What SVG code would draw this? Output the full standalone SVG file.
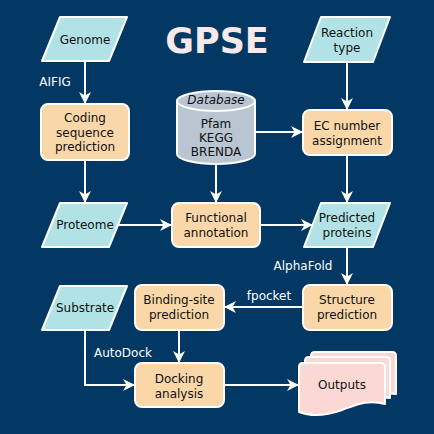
<svg xmlns="http://www.w3.org/2000/svg" width="434" height="434" viewBox="0 0 434 434">
<defs>
<style>
.io{fill:#b1e3e6;stroke:#fff;stroke-width:2;stroke-linejoin:round}
.pr{fill:#f9d7a8;stroke:#fff;stroke-width:2}
.db{fill:#b9c5d1;stroke:#fff;stroke-width:2}
.out{fill:#fad8d4;stroke:#fff;stroke-width:2;stroke-linejoin:round}
.t{font-family:"DejaVu Sans",Verdana,sans-serif;font-size:12px;fill:#111;text-anchor:middle}
.lbl{font-family:"DejaVu Sans",Verdana,sans-serif;font-size:12px;fill:#fff;text-anchor:middle}
.c{fill:none;stroke:#fff;stroke-width:2}
</style>
<marker id="ah" markerUnits="userSpaceOnUse" markerWidth="12" markerHeight="12" viewBox="0 0 12 12" refX="11" refY="6" orient="auto">
<path d="M0,0 L12,6 L0,12 L3.5,6 Z" fill="#fff"/>
</marker>
</defs>
<rect width="434" height="434" fill="#033764"/>
<text x="217" y="53" font-family="'DejaVu Sans',Verdana,sans-serif" font-size="35" font-weight="bold" fill="#f7e9ea" text-anchor="middle">GPSE</text>

<g id="connectors">
<line class="c" x1="85" y1="61" x2="85" y2="103" marker-end="url(#ah)"/>
<line class="c" x1="85" y1="160" x2="85" y2="202" marker-end="url(#ah)"/>
<line class="c" x1="118" y1="225" x2="171" y2="225" marker-end="url(#ah)"/>
<line class="c" x1="216" y1="164" x2="216" y2="202" marker-end="url(#ah)"/>
<line class="c" x1="255" y1="132" x2="302" y2="132" marker-end="url(#ah)"/>
<line class="c" x1="347" y1="62" x2="347" y2="109" marker-end="url(#ah)"/>
<line class="c" x1="347" y1="155" x2="347" y2="202" marker-end="url(#ah)"/>
<line class="c" x1="260" y1="225" x2="312" y2="225" marker-end="url(#ah)"/>
<line class="c" x1="347" y1="247" x2="347" y2="284" marker-end="url(#ah)"/>
<line class="c" x1="303" y1="307" x2="225" y2="307" marker-end="url(#ah)"/>
<line class="c" x1="179" y1="330" x2="179" y2="362" marker-end="url(#ah)"/>
<polyline class="c" points="85,330 85,385 134,385" marker-end="url(#ah)"/>
<line class="c" x1="224" y1="385" x2="298" y2="385" marker-end="url(#ah)"/>
<text class="lbl" x="55" y="86">AIFIG</text>
<text class="lbl" x="303" y="270">AlphaFold</text>
<text class="lbl" x="269" y="300">fpocket</text>
<text class="lbl" x="123" y="357">AutoDock</text>
</g>

<g id="genome">
<polygon class="io" points="60,17 127,17 109,61 42,61"/>
<text class="t" x="85" y="44">Genome</text>
</g>
<g id="reaction">
<polygon class="io" points="321,17 390,17 373,62 304,62"/>
<text class="t" x="347" y="37">Reaction</text>
<text class="t" x="347" y="52">type</text>
</g>
<g id="coding">
<rect class="pr" x="41" y="104" width="88" height="56" rx="7"/>
<text class="t" x="85" y="122">Coding</text>
<text class="t" x="85" y="137">sequence</text>
<text class="t" x="85" y="151">prediction</text>
</g>
<g id="database">
<path class="db" d="M177,101 A39,10 0 0 1 255,101 L255,154 A39,10 0 0 1 177,154 Z"/>
<path class="c" d="M177,101 A39,10 0 0 0 255,101"/>
<text class="t" x="216" y="104" font-style="italic">Database</text>
<text class="t" x="216" y="128">Pfam</text>
<text class="t" x="216" y="142">KEGG</text>
<text class="t" x="216" y="156">BRENDA</text>
</g>
<g id="ec">
<rect class="pr" x="303" y="110" width="89" height="45" rx="7"/>
<text class="t" x="347" y="130">EC number</text>
<text class="t" x="347" y="145">assignment</text>
</g>
<g id="proteome">
<polygon class="io" points="60,203 127,203 109,247 42,247"/>
<text class="t" x="85" y="229">Proteome</text>
</g>
<g id="functional">
<rect class="pr" x="172" y="203" width="88" height="44" rx="7"/>
<text class="t" x="216" y="222">Functional</text>
<text class="t" x="216" y="237">annotation</text>
</g>
<g id="predicted">
<polygon class="io" points="321,203 390,203 373,247 304,247"/>
<text class="t" x="347" y="222">Predicted</text>
<text class="t" x="347" y="237">proteins</text>
</g>
<g id="substrate">
<polygon class="io" points="60,286 127,286 109,330 42,330"/>
<text class="t" x="85" y="312">Substrate</text>
</g>
<g id="binding">
<rect class="pr" x="135" y="285" width="89" height="45" rx="7"/>
<text class="t" x="179" y="304">Binding-site</text>
<text class="t" x="179" y="319">prediction</text>
</g>
<g id="structure">
<rect class="pr" x="303" y="285" width="89" height="45" rx="7"/>
<text class="t" x="347" y="304">Structure</text>
<text class="t" x="347" y="319">prediction</text>
</g>
<g id="docking">
<rect class="pr" x="135" y="363" width="89" height="44" rx="7"/>
<text class="t" x="179" y="383">Docking</text>
<text class="t" x="179" y="398">analysis</text>
</g>
<g id="outputs">
<path class="out" d="M311,356 Q311,352 315,352 L392,352 Q396,352 396,356 L396,394 C386,392 378,395 372,398 L372,380 L311,380 Z"/>
<path class="out" d="M305,361 Q305,357 309,357 L386,357 Q390,357 390,361 L390,398 C380,396 372,399 366,402 L366,385 L305,385 Z"/>
<path class="out" d="M299,367 Q299,363 303,363 L381,363 Q385,363 385,367 L385,404 C368,399 356,405 342,410 C328,415 312,417 299,412 Z"/>
<text class="t" x="342" y="389">Outputs</text>
</g>
</svg>
